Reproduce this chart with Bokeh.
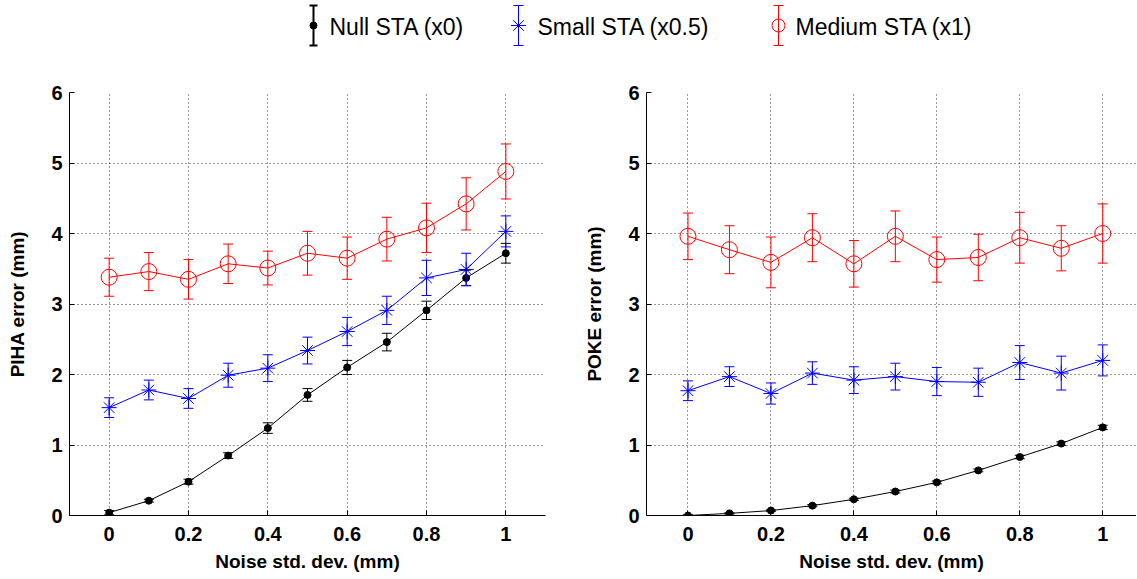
from bokeh.plotting import figure
from bokeh.layouts import column, row
from bokeh.models import ColumnDataSource, Whisker, TeeHead, Range1d, FixedTicker
from bokeh.core.properties import value
from bokeh.embed import file_html
from bokeh.resources import INLINE

FONT = "Liberation Sans"

# ---------------- data ----------------
noise = [0.0, 0.1, 0.2, 0.3, 0.4, 0.5, 0.6, 0.7, 0.8, 0.9, 1.0]

piha_null = [0.04, 0.21, 0.48, 0.85, 1.24, 1.71, 2.10, 2.46, 2.91, 3.37, 3.72]
piha_null_err = [0.03, 0.02, 0.035, 0.04, 0.075, 0.09, 0.10, 0.125, 0.13, 0.11, 0.14]
piha_small = [1.53, 1.78, 1.66, 1.99, 2.09, 2.34, 2.61, 2.91, 3.37, 3.49, 4.03]
piha_small_err = [0.14, 0.14, 0.14, 0.17, 0.19, 0.19, 0.20, 0.20, 0.25, 0.23, 0.22]
piha_medium = [3.38, 3.46, 3.35, 3.57, 3.51, 3.72, 3.65, 3.92, 4.08, 4.42, 4.88]
piha_medium_err = [0.27, 0.27, 0.28, 0.28, 0.24, 0.31, 0.30, 0.31, 0.35, 0.37, 0.39]

poke_null = [0.0, 0.03, 0.07, 0.14, 0.23, 0.34, 0.47, 0.64, 0.83, 1.02, 1.25]
poke_null_err = [0.01, 0.01, 0.01, 0.015, 0.015, 0.02, 0.02, 0.02, 0.025, 0.025, 0.03]
poke_small = [1.77, 1.97, 1.73, 2.02, 1.92, 1.97, 1.90, 1.89, 2.17, 2.02, 2.20]
poke_small_err = [0.14, 0.14, 0.15, 0.16, 0.19, 0.19, 0.20, 0.20, 0.24, 0.24, 0.22]
poke_medium = [3.96, 3.77, 3.59, 3.94, 3.57, 3.96, 3.63, 3.66, 3.94, 3.79, 4.00]
poke_medium_err = [0.33, 0.34, 0.36, 0.34, 0.33, 0.36, 0.32, 0.33, 0.36, 0.32, 0.42]

series_labels = ["Null STA (x0)", "Small STA (x0.5)", "Medium STA (x1)"]
series_colors = ["#000000", "#0000ff", "#ff0000"]
series_markers = ["circle", "asterisk", "circle"]
series_fills = ["#000000", None, None]
series_sizes = [7, 15, 16]
legend_sizes = [7, 15, 13]

x_ticks = [0, 0.2, 0.4, 0.6, 0.8, 1]
x_tick_labels = ["0", "0.2", "0.4", "0.6", "0.8", "1"]
y_ticks = [0, 1, 2, 3, 4, 5, 6]

x_label = "Noise std. dev. (mm)"
y_labels = ["PIHA error (mm)", "POKE error (mm)"]

PANEL_H = 578 - 82


def make_panel(ylabel, means, errs, width, x_end, border_left, border_right):
    p = figure(width=width, height=PANEL_H, output_backend="svg", toolbar_location=None,
               x_range=Range1d(-0.1, x_end), y_range=Range1d(0, 6),
               min_border_left=border_left, min_border_right=border_right,
               min_border_top=10, min_border_bottom=PANEL_H - 10 - 423)
    p.outline_line_color = None
    p.background_fill_color = "white"
    for m, e, col, mk, fc, sz in zip(means, errs, series_colors, series_markers,
                                      series_fills, series_sizes):
        src = ColumnDataSource(dict(
            x=noise, y=m,
            upper=[a + b for a, b in zip(m, e)],
            lower=[a - b for a, b in zip(m, e)]))
        w = Whisker(source=src, base="x", upper="upper", lower="lower",
                    line_color=col, line_width=1,
                    upper_head=TeeHead(size=10, line_color=col, line_width=1),
                    lower_head=TeeHead(size=10, line_color=col, line_width=1),
                    level="glyph")
        p.add_layout(w)
        p.line("x", "y", source=src, line_color=col, line_width=1)
        p.scatter("x", "y", source=src, marker=mk, size=sz, line_color=col,
                  fill_color=fc, line_width=1)

    for ax in (p.xaxis[0], p.yaxis[0]):
        ax.axis_line_color = "black"
        ax.axis_line_width = 1
        ax.major_tick_in = 5
        ax.major_tick_out = 0
        ax.minor_tick_line_color = None
        ax.major_tick_line_color = "black"
        ax.major_label_text_font = FONT
        ax.major_label_text_font_style = "bold"
        ax.major_label_text_font_size = "20px"
        ax.major_label_text_color = "black"
        ax.axis_label_text_font = FONT
        ax.axis_label_text_font_style = "bold"
        ax.axis_label_text_font_size = "19px"
        ax.axis_label_text_color = "black"

    p.xaxis.ticker = FixedTicker(ticks=x_ticks)
    p.xaxis.major_label_overrides = dict(zip(x_ticks, x_tick_labels))
    p.yaxis.ticker = FixedTicker(ticks=y_ticks)
    p.xaxis.axis_label = x_label
    p.yaxis.axis_label = ylabel
    p.xaxis.major_label_standoff = 11
    p.xaxis.axis_label_standoff = 7
    p.yaxis.major_label_standoff = 7
    p.yaxis.axis_label_standoff = 20

    for g in (p.xgrid[0], p.ygrid[0]):
        g.grid_line_color = "black"
        g.grid_line_alpha = 0.8
        g.grid_line_dash = "1 3"
        g.grid_line_width = 1
    return p


left = make_panel(y_labels[0], [piha_null, piha_small, piha_medium],
                  [piha_null_err, piha_small_err, piha_medium_err],
                  581, 1.1, 69, 36)
right = make_panel(y_labels[1], [poke_null, poke_small, poke_medium],
                   [poke_null_err, poke_small_err, poke_medium_err],
                   555, 1.0814, 60, 0)

# ---------------- legend (layout in pixel units) ----------------
LW, LH = 1136, 82
leg = figure(width=LW, height=LH, output_backend="svg", toolbar_location=None,
             x_range=Range1d(0, LW), y_range=Range1d(LH, 0),
             min_border=0)
leg.axis.visible = False
leg.grid.visible = False
leg.outline_line_color = None

leg_marker_x = [313, 518, 778]
leg_text_x = [329, 537, 795]
leg_y = 25
leg_half = 20

for i in range(3):
    src = ColumnDataSource(dict(x=[leg_marker_x[i]], y=[leg_y],
                                upper=[leg_y - leg_half], lower=[leg_y + leg_half]))
    col = series_colors[i]
    head_w = 8 if i == 0 else 10
    lw = 2 if i == 0 else 1
    leg.add_layout(Whisker(source=src, base="x", upper="upper", lower="lower",
                           line_color=col, line_width=lw,
                           upper_head=TeeHead(size=head_w, line_color=col, line_width=lw),
                           lower_head=TeeHead(size=head_w, line_color=col, line_width=lw)))
    leg.scatter("x", "y", source=src, marker=series_markers[i], size=legend_sizes[i],
                line_color=col, fill_color=series_fills[i], line_width=1)
    leg.text(x=[leg_text_x[i]], y=[leg_y + 1], text=[series_labels[i]],
             text_font=value(FONT), text_font_size="23px", text_color="black",
             text_baseline="middle", text_align="left")

layout = column(leg, row(left, right, spacing=0), spacing=0)

open("out.html", "w").write(file_html(layout, INLINE))
